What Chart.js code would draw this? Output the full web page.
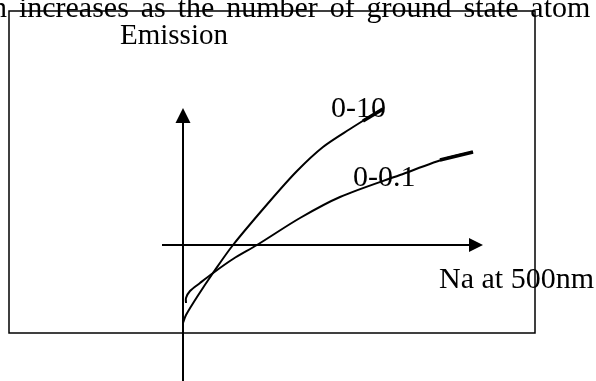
<!DOCTYPE html>
<html>
<head>
<meta charset="utf-8">
<script src="https://cdn.jsdelivr.net/npm/chart.js@4/dist/chart.umd.min.js"></script>
<style>
  html, body { margin: 0; padding: 0; background: #fff; }
  canvas { display: block; }
</style>
</head>
<body>
<canvas id="sketch" width="596" height="381"></canvas>
<script>
// values (x = Na concentration, y = emission, arbitrary units)
const curve10X = [0, 0.3, 1.4, 3.0, 5.0, 8.7, 11.4, 14.0, 16.7, 19.9];
const curve10Y = [1.0, 1.8, 3.6, 6.0, 8.8, 13.2, 16.2, 18.6, 20.4, 22.4];
const curve01X = [0.3, 0.3, 0.7, 1.7, 3.0, 5.0, 7.4, 11.7, 15.7, 21.7, 26.4, 29.0];
const curve01Y = [3.0, 3.5, 4.2, 5.0, 6.0, 7.4, 8.8, 11.5, 13.6, 15.8, 17.5, 18.1];
// short heavy pen strokes at the end of each curve
const tip10X = [18.0, 20.0];
const tip10Y = [21.2, 22.4];
const tip01X = [25.7, 29.0];
const tip01Y = [17.3, 18.1];
const seriesLabels = ['0-10', '0-0.1'];

const toPoints = (xs, ys) => xs.map((x, i) => ({ x: x, y: ys[i] }));
const FONT = '"Liberation Serif", "Times New Roman", serif';

var drawText = function(ctx, text, px, py, size) {
    ctx.save();
    ctx.font = size + 'px ' + FONT;
    ctx.fillStyle = '#000';
    ctx.textBaseline = 'alphabetic';
    ctx.fillText(text, px, py);
    ctx.restore();
};

// justified paragraph line cut by the top of the figure
var drawJustified = function(ctx, text, px, py, size, extra) {
    ctx.save();
    ctx.font = size + 'px ' + FONT;
    ctx.fillStyle = '#000';
    const space = ctx.measureText(' ').width + extra;
    let x = px;
    text.split(' ').forEach(function(word) {
        ctx.fillText(word, x, py);
        x += ctx.measureText(word).width + space;
    });
    ctx.restore();
};

const sketchPlugin = {
    id: 'sketch',
    beforeDatasetsDraw(chart) {
        const ctx = chart.ctx;
        const sx = chart.scales.x, sy = chart.scales.y;
        const X = v => sx.getPixelForValue(v);
        const Y = v => sy.getPixelForValue(v);
        ctx.save();
        ctx.strokeStyle = '#000';
        ctx.fillStyle = '#000';
        // frame
        ctx.lineWidth = 1.5;
        ctx.strokeRect(X(-17.4), Y(32.2), X(35.2) - X(-17.4), Y(0) - Y(32.2));
        // vertical axis with arrow
        ctx.lineWidth = 2;
        ctx.beginPath();
        ctx.moveTo(X(0), Y(-5));
        ctx.lineTo(X(0), Y(21.2));
        ctx.stroke();
        ctx.beginPath();
        ctx.moveTo(X(0), Y(22.5));
        ctx.lineTo(X(-0.75), Y(21.0));
        ctx.lineTo(X(0.75), Y(21.0));
        ctx.closePath();
        ctx.fill();
        // horizontal axis with arrow
        ctx.beginPath();
        ctx.moveTo(X(-2.1), Y(8.8));
        ctx.lineTo(X(28.8), Y(8.8));
        ctx.stroke();
        ctx.beginPath();
        ctx.moveTo(X(30.0), Y(8.8));
        ctx.lineTo(X(28.6), Y(9.5));
        ctx.lineTo(X(28.6), Y(8.1));
        ctx.closePath();
        ctx.fill();
        ctx.restore();
    },
    afterDatasetsDraw(chart) {
        const ctx = chart.ctx;
        const sx = chart.scales.x, sy = chart.scales.y;
        const X = v => sx.getPixelForValue(v);
        const Y = v => sy.getPixelForValue(v);
        drawJustified(ctx, 'n increases as the number of ground state atom', X(-19.1), Y(31.6), 30, 4.4);
        drawText(ctx, 'Emission', X(-6.3), Y(28.9), 29);
        drawText(ctx, seriesLabels[0], X(14.8), Y(21.6), 30);
        drawText(ctx, seriesLabels[1], X(17.0), Y(14.7), 30);
        drawText(ctx, 'Na at 500nm', X(25.6), Y(4.5), 30);
    }
};

const lineStyle = { borderColor: '#000', borderWidth: 2, pointRadius: 0, tension: 0.3, fill: false };

new Chart(document.getElementById('sketch'), {
    type: 'scatter',
    data: {
        datasets: [
            Object.assign({ label: seriesLabels[0], data: toPoints(curve10X, curve10Y), showLine: true }, lineStyle),
            Object.assign({ label: seriesLabels[1], data: toPoints(curve01X, curve01Y), showLine: true }, lineStyle),
            Object.assign({ label: 'tip 10', data: toPoints(tip10X, tip10Y), showLine: true }, lineStyle, { borderWidth: 3.5, tension: 0 }),
            Object.assign({ label: 'tip 01', data: toPoints(tip01X, tip01Y), showLine: true }, lineStyle, { borderWidth: 3.5, tension: 0 })
        ]
    },
    options: {
        responsive: false,
        animation: false,
        layout: { padding: 0 },
        plugins: { legend: { display: false }, tooltip: { enabled: false } },
        scales: {
            x: { type: 'linear', min: -18.3, max: 41.3, display: false },
            y: { type: 'linear', min: -4.8, max: 33.3, display: false }
        }
    },
    plugins: [sketchPlugin]
});
</script>
</body>
</html>
